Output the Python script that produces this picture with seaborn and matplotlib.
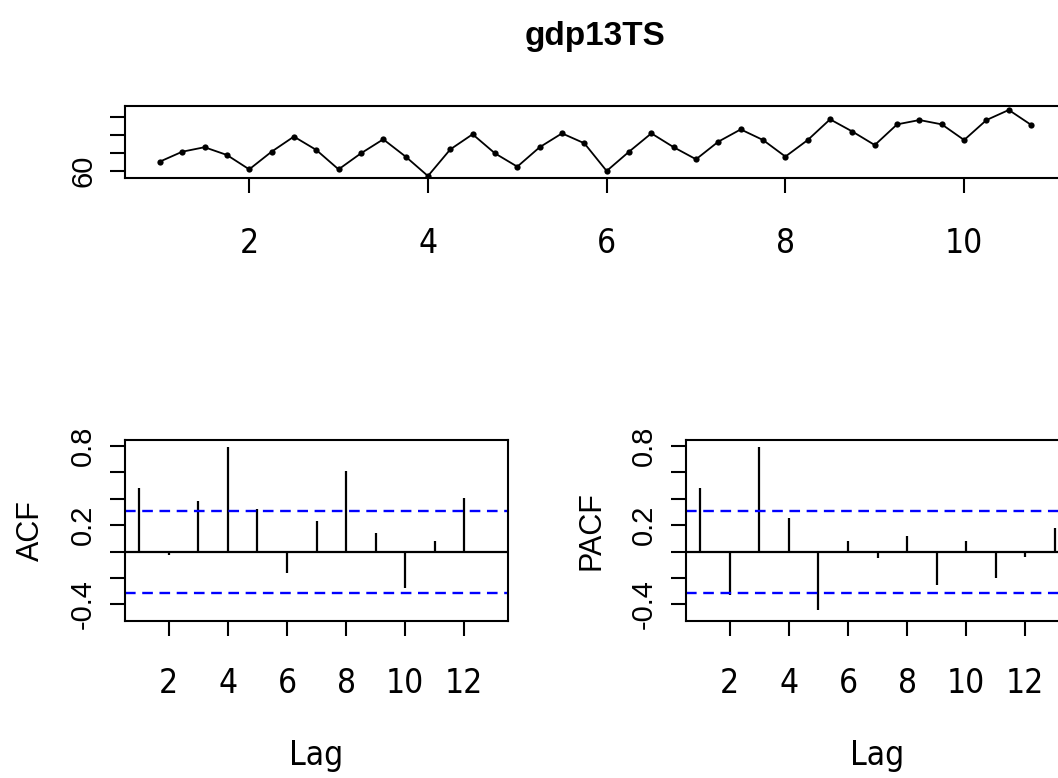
import numpy as np
import pandas as pd
import seaborn as sns
import matplotlib.pyplot as plt
from matplotlib import font_manager as fm

# quarterly series, starts at 1, frequency 4
ts_start = 1
ts_freq = 4
gdp13 = [65.2, 70.7, 73.2, 68.9, 60.9, 70.7, 79.1, 71.7, 60.9, 69.8,
         77.6, 68.0, 57.2, 72.0, 80.4, 69.8, 62.4, 73.2, 80.9, 75.4,
         60.0, 70.7, 80.9, 73.2, 66.5, 76.3, 83.1, 77.2, 68.0, 77.2,
         88.7, 81.9, 74.4, 85.9, 88.3, 85.9, 77.2, 88.3, 93.9, 85.6]

acf_lags = [1, 2, 3, 4, 5, 6, 7, 8, 9, 10, 11, 12]
acf_vals = [0.48, -0.025, 0.386, 0.795, 0.32, -0.16, 0.235, 0.61, 0.139, -0.278, 0.083, 0.404]
pacf_lags = [1, 2, 3, 4, 5, 6, 7, 8, 9, 10, 11, 12, 13]
pacf_vals = [0.48, -0.328, 0.795, 0.253, -0.442, 0.083, -0.045, 0.121, -0.253, 0.083, -0.197, -0.043, 0.177]
ci = 0.31

ts_xticks = [2, 4, 6, 8, 10]
ts_yticks = [60, 70, 80, 90]
ts_ylabels = ['60', '', '', '']
lag_ticks = [2, 4, 6, 8, 10, 12]
cf_yticks = [-0.4, -0.2, 0.0, 0.2, 0.4, 0.6, 0.8]
cf_ylabels = ['-0.4', '', '', '0.2', '', '', '0.8']

df = pd.DataFrame({'time': ts_start + np.arange(len(gdp13)) / ts_freq, 'gdp': gdp13})

sns.set_theme(style="white")
plt.rcParams['font.family'] = ['Liberation Sans', 'DejaVu Sans']
for k in ['text.color', 'axes.labelcolor', 'xtick.color', 'ytick.color', 'axes.edgecolor']:
    plt.rcParams[k] = 'black'

# look for a condensed sans face for the horizontal labels
def find_condensed():
    good = []
    for f in fm.fontManager.ttflist:
        nm = f.name
        if 'Mono' in nm or 'Serif' in nm or f.style != 'normal':
            continue
        if f.weight not in (400, 'normal', 'regular', 'book'):
            continue
        if 'Narrow' in nm or 'Condensed' in nm or f.stretch in ('condensed', 'semi-condensed'):
            good.append(f)
    good.sort(key=lambda f: (0 if 'Liberation' in f.name else 1 if 'DejaVu' in f.name else 2))
    return good[0].fname if good else None

cond_path = find_condensed()
if cond_path:
    lab_fp = fm.FontProperties(fname=cond_path, size=24)
else:
    lab_fp = fm.FontProperties(family='Liberation Sans', size=22)

W, H = 1058, 778
def box(l, r, t, b):
    return [l / W, 1 - b / H, (r - l) / W, (b - t) / H]

def r_style(ax):
    for s in ax.spines.values():
        s.set_visible(True)
        s.set_color('black')
        s.set_linewidth(1.5)
    ax.grid(False)
    ax.tick_params(direction='out', length=11, width=1.5, colors='black',
                   left=True, bottom=True)

fig = plt.figure(figsize=(10.58, 7.78), dpi=100)
fig.patch.set_facecolor('white')
ax_ts = fig.add_axes(box(125, 1066, 106, 178))
ax_acf = fig.add_axes(box(125, 508, 440, 621))
ax_pacf = fig.add_axes(box(686, 1069, 440, 621))

# time series panel
sns.lineplot(data=df, x='time', y='gdp', ax=ax_ts, color='black', lw=1.3,
             marker='o', markersize=4.5, markeredgewidth=0)
ax_ts.set_xlim(0.61, 11.14)
ax_ts.set_ylim(56.1, 96.1)
r_style(ax_ts)
ax_ts.set_xticks(ts_xticks)
ax_ts.set_xticklabels([str(t) for t in ts_xticks], fontproperties=lab_fp)
ax_ts.set_yticks(ts_yticks)
ax_ts.set_yticklabels(ts_ylabels, rotation=90, va='center', fontsize=21)
ax_ts.tick_params(axis='x', pad=24)
ax_ts.tick_params(axis='y', pad=9)
ax_ts.set_xlabel('')
ax_ts.set_ylabel('')

fig.text(595 / W, 1 - 45 / H, 'gdp13TS', ha='center', va='baseline',
         fontsize=24, fontweight='bold')

# ACF / PACF panels
for ax, lags, vals, lab in [(ax_acf, acf_lags, acf_vals, 'ACF'),
                            (ax_pacf, pacf_lags, pacf_vals, 'PACF')]:
    ax.vlines(lags, 0, vals, color='black', lw=1.6)
    ax.axhline(0, color='black', lw=1.6)
    ax.axhline(ci, color='blue', lw=1.7, ls=(0, (4.5, 2.8)))
    ax.axhline(-ci, color='blue', lw=1.7, ls=(0, (4.5, 2.8)))
    ax.set_xlim(0.52, 13.48)
    ax.set_ylim(-0.525, 0.846)
    r_style(ax)
    ax.set_xticks(lag_ticks)
    ax.set_xticklabels([str(t) for t in lag_ticks], fontproperties=lab_fp)
    ax.set_yticks(cf_yticks)
    ax.set_yticklabels(cf_ylabels, rotation=90, va='center', fontsize=21)
    ax.tick_params(axis='x', pad=22)
    ax.tick_params(axis='y', pad=9)
    ax.set_xlabel('Lag', fontproperties=lab_fp, labelpad=28)
    ax.set_ylabel(lab, fontsize=22, labelpad=17)

fig.savefig('out.png', dpi=100, facecolor='white')
